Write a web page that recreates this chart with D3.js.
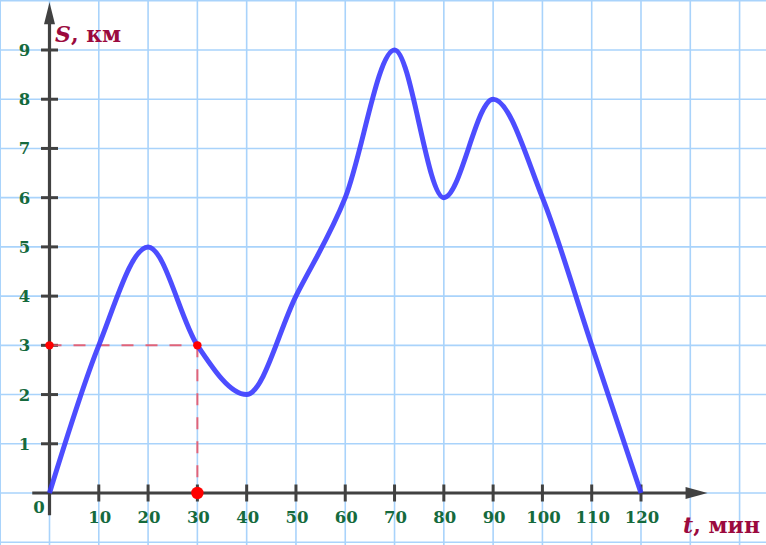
<!DOCTYPE html>
<html>
<head>
<meta charset="utf-8">
<script src="https://cdn.jsdelivr.net/npm/d3@7"></script>
<style>
  html, body { margin: 0; padding: 0; background: #fff; }
  svg { display: block; }
</style>
</head>
<body>
<div id="chart"></div>
<script>
// t, min  /  S, km
var times = [0, 10, 20, 30, 40, 50, 60, 70, 80, 90, 100, 110, 120];
var dist  = [0, 3, 5, 3, 2, 4, 6, 9, 6, 8, 6, 3, 0];

var xTicks = [10, 20, 30, 40, 50, 60, 70, 80, 90, 100, 110, 120];
var yTicks = [1, 2, 3, 4, 5, 6, 7, 8, 9];

// the marked point
var markT = [30];
var markS = [3];

var W = 766, H = 545;

var x = d3.scaleLinear().domain([0, 120]).range([49.5, 641]);
var y = d3.scaleLinear().domain([0, 9]).range([493, 50]);

var axisColor = "#414141",
    labelColor = "#156a3d",
    titleColor = "#9b0a3e";

var svg = d3.select("#chart").append("svg")
    .attr("width", W).attr("height", H);

// grid
var grid = svg.append("g").attr("stroke", "#a9d3fb").attr("stroke-width", 1.6);
grid.selectAll("line.v").data(d3.range(-10, 150, 10)).enter().append("line")
    .attr("class", "v")
    .attr("x1", function (d) { return x(d); }).attr("x2", function (d) { return x(d); })
    .attr("y1", 0).attr("y2", H);
grid.selectAll("line.h").data(d3.range(-1, 11, 1)).enter().append("line")
    .attr("class", "h")
    .attr("y1", function (d) { return y(d); }).attr("y2", function (d) { return y(d); })
    .attr("x1", 0).attr("x2", W);

// axes
var ax = svg.append("g");
ax.append("line")
    .attr("x1", x(-3.5)).attr("x2", x(130))
    .attr("y1", y(0)).attr("y2", y(0))
    .attr("stroke", axisColor).attr("stroke-width", 3.2);
ax.append("line")
    .attr("x1", x(0)).attr("x2", x(0))
    .attr("y1", y(-0.45)).attr("y2", y(9.6))
    .attr("stroke", axisColor).attr("stroke-width", 3.2);

// arrows
ax.append("path")
    .attr("d", "M" + x(133.5) + "," + y(0) + "L" + (x(133.5) - 22) + "," + (y(0) - 6) + "L" + (x(133.5) - 22) + "," + (y(0) + 6) + "Z")
    .attr("fill", axisColor);
ax.append("path")
    .attr("d", "M" + x(0) + "," + y(9.97) + "L" + (x(0) - 5.5) + "," + (y(9.97) + 22) + "L" + (x(0) + 5.5) + "," + (y(9.97) + 22) + "Z")
    .attr("fill", axisColor);

// tick crosses
ax.selectAll("line.xt").data(xTicks).enter().append("line")
    .attr("class", "xt")
    .attr("x1", function (d) { return x(d); }).attr("x2", function (d) { return x(d); })
    .attr("y1", y(0) - 8.5).attr("y2", y(0) + 8.5)
    .attr("stroke", axisColor).attr("stroke-width", 3);
ax.selectAll("line.yt").data(yTicks).enter().append("line")
    .attr("class", "yt")
    .attr("y1", function (d) { return y(d); }).attr("y2", function (d) { return y(d); })
    .attr("x1", x(0) - 8.5).attr("x2", x(0) + 8.5)
    .attr("stroke", axisColor).attr("stroke-width", 3);

// tick labels
var labels = svg.append("g")
    .attr("font-family", "'DejaVu Serif', serif")
    .attr("font-weight", "bold")
    .attr("font-size", "16.5px")
    .attr("fill", labelColor)
    .attr("text-anchor", "middle");
labels.selectAll("text.xl").data(xTicks).enter().append("text")
    .attr("class", "xl")
    .attr("x", function (d) { return x(d) + 1; })
    .attr("y", y(0) + 30)
    .text(function (d) { return d; });
labels.selectAll("text.yl").data(yTicks).enter().append("text")
    .attr("class", "yl")
    .attr("x", 24.5)
    .attr("y", function (d) { return y(d) + 6; })
    .text(function (d) { return d; });
labels.append("text").attr("x", 39).attr("y", y(0) + 20).text("0");

// red dashed guides
var guide = svg.append("g")
    .attr("stroke", "#ea4f61").attr("stroke-opacity", 0.85)
    .attr("stroke-width", 2).attr("stroke-dasharray", "12,12").attr("fill", "none");
guide.append("line")
    .attr("x1", x(0)).attr("x2", x(markT[0]))
    .attr("y1", y(markS[0])).attr("y2", y(markS[0]));
guide.append("line")
    .attr("x1", x(markT[0])).attr("x2", x(markT[0]))
    .attr("y1", y(markS[0])).attr("y2", y(0));

// curve
var line = d3.line()
    .x(function (d, i) { return x(times[i]); })
    .y(function (d) { return y(d); })
    .curve(d3.curveMonotoneX);

svg.append("path")
    .datum(dist)
    .attr("d", line)
    .attr("fill", "none")
    .attr("stroke", "#3a3aff")
    .attr("stroke-opacity", 0.9)
    .attr("stroke-width", 5)
    .attr("stroke-linejoin", "round");

// red dots
svg.append("circle").attr("cx", x(0)).attr("cy", y(markS[0])).attr("r", 4.2).attr("fill", "#ff0000");
svg.append("circle").attr("cx", x(markT[0])).attr("cy", y(markS[0])).attr("r", 4.2).attr("fill", "#ff0000");
svg.append("circle").attr("cx", x(markT[0])).attr("cy", y(0)).attr("r", 6.2).attr("fill", "#ff0000");

// axis titles
var yt = svg.append("text")
    .attr("x", 55).attr("y", 41.5)
    .attr("font-family", "'DejaVu Serif', serif")
    .attr("font-weight", "bold")
    .attr("font-size", "22px")
    .attr("fill", titleColor);
yt.append("tspan").attr("font-style", "italic").text("S");
yt.append("tspan").text(", км");

var xt = svg.append("text")
    .attr("x", 683).attr("y", 533)
    .attr("font-family", "'DejaVu Serif', serif")
    .attr("font-weight", "bold")
    .attr("font-size", "22px")
    .attr("fill", titleColor);
xt.append("tspan").attr("font-style", "italic").text("t");
xt.append("tspan").text(", мин");
</script>
</body>
</html>
